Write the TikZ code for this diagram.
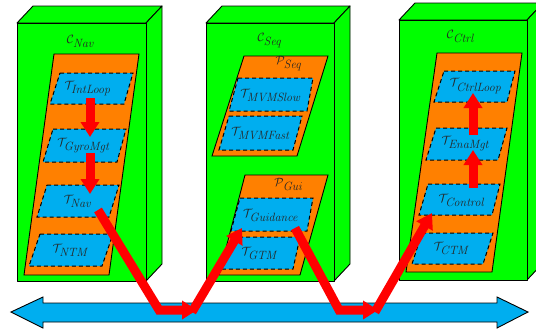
\documentclass[tikz,border=0pt]{standalone}
\usepackage{amsmath}
\usetikzlibrary{arrows.meta}
\definecolor{boxgreen}{RGB}{0,255,0}
\definecolor{procorange}{RGB}{255,128,0}
\definecolor{taskblue}{RGB}{0,174,239}
\definecolor{flowred}{RGB}{255,0,0}
\newcommand{\tlbl}[2]{$\mathcal{#1}_{\textstyle\mathit{#2}}$}
\tikzset{
  boxface/.style={fill=boxgreen, draw=black, line width=0.9pt, line join=round},
  procbox/.style={fill=procorange, draw=black, line width=0.9pt},
  taskbox/.style={fill=taskblue, draw=black, line width=1pt, dash pattern=on 4pt off 3pt},
  lbl/.style={inner sep=0pt, font=\large, text=black!85},
  flow/.style={draw=flowred, line width=9pt, line join=miter,
     -{Triangle[length=15pt,width=18pt]}},
  busarrow/.style={fill=taskblue, draw=black, line width=0.9pt, line join=miter}
}
\newcommand{\cube}[4]{% L R T B
  \draw[boxface] (#1,#3) -- ++(16,-17) -- (#2+16,#3-17) -- (#2,#3) -- cycle;
  \draw[boxface] (#2,#3) -- (#2+16,#3-17) -- (#2+16,#4-17) -- (#2,#4) -- cycle;
  \draw[boxface] (#1,#3) rectangle (#2,#4);
}
\begin{document}
\begin{tikzpicture}[x=1pt,y=-1pt]
\useasboundingbox (0,0) rectangle (536,333);
\clip (0,0) rectangle (536,333);

% containers
\cube{17}{146}{23}{281}
\cube{206}{334}{23}{281}
\cube{399}{527}{20}{280}
\node[lbl] (cnav) at (81,41) {\tlbl{C}{Nav}};
\node[lbl] (cseq) at (270,41) {\tlbl{C}{Seq}};
\node[lbl] (cctrl) at (461,36) {\tlbl{C}{Ctrl}};

% processes
\draw[procbox] (54,54) -- (139,54) -- (109,275) -- (24,275) -- cycle;
\draw[procbox] (244,56) -- (328,56) -- (297,156) -- (212,156) -- cycle;
\draw[procbox] (245,175) -- (328,175) -- (300,275) -- (219,275) -- cycle;
\draw[procbox] (437,53) -- (522,53) -- (492,272) -- (406,272) -- cycle;
\node[lbl] (pseq) at (289,64) {\tlbl{P}{Seq}};
\node[lbl] (pgui) at (289,184) {\tlbl{P}{Gui}};

% tasks in C_Nav
\draw[taskbox] (60,73) -- (133,73) -- (124,104) -- (50,104) -- cycle;
\draw[taskbox] (53,129) -- (126,129) -- (117,162) -- (43,162) -- cycle;
\draw[taskbox] (47,185) -- (119,185) -- (109,217) -- (37,217) -- cycle;
\draw[taskbox] (40,234) -- (113,234) -- (102,266) -- (29,266) -- cycle;
\node[lbl] (tintloop) at (88,89) {\tlbl{T}{IntLoop}};
\node[lbl] (tgyro) at (84,146) {\tlbl{T}{GyroMgt}};
\node[lbl] (tnav) at (78,201) {\tlbl{T}{Nav}};
\node[lbl] (tntm) at (71,250) {\tlbl{T}{NTM}};

% tasks in C_Seq
\draw[taskbox] (238,78) -- (313,78) -- (307,111) -- (229,111) -- cycle;
\draw[taskbox] (229,116) -- (302,116) -- (293,150) -- (219,150) -- cycle;
\draw[taskbox] (240,198) -- (313,198) -- (307,231) -- (231,231) -- cycle;
\draw[taskbox] (232,237) -- (300,237) -- (293,269) -- (222,269) -- cycle;
\node[lbl] (tslow) at (271,95) {\tlbl{T}{MVMSlow}};
\node[lbl] (tfast) at (261,133) {\tlbl{T}{MVMFast}};
\node[lbl] (tguid) at (271,215) {\tlbl{T}{Guidance}};
\node[lbl] (tgtm) at (260,253) {\tlbl{T}{GTM}};

% tasks in C_Ctrl
\draw[taskbox] (444,71) -- (515,71) -- (507,102) -- (434,102) -- cycle;
\draw[taskbox] (436,128) -- (507,128) -- (498,160) -- (426,160) -- cycle;
\draw[taskbox] (428,184) -- (500,184) -- (492,215) -- (419,215) -- cycle;
\draw[taskbox] (422,233) -- (493,233) -- (483,264) -- (412,264) -- cycle;
\node[lbl] (tctrlloop) at (476,86) {\tlbl{T}{CtrlLoop}};
\node[lbl] (tena) at (466,144) {\tlbl{T}{EnaMgt}};
\node[lbl] (tcontrol) at (462,200) {\tlbl{T}{Control}};
\node[lbl] (tctm) at (452,248) {\tlbl{T}{CTM}};

% bus
\draw[busarrow] (11,312) -- (43,297) -- (43,303) -- (497,303) -- (497,297)
  -- (528,312) -- (497,328) -- (497,322) -- (43,322) -- (43,328) -- cycle;
\coordinate (busL) at (11,312);
\coordinate (busR) at (528,312);

% flow endpoints
\coordinate (a1s) at (90,98);   \coordinate (a1e) at (90,137);
\coordinate (a2s) at (90,153);  \coordinate (a2e) at (90,194);
\coordinate (a3s) at (98,210);  \coordinate (a3m) at (159,310); \coordinate (a3e) at (197,310);
\coordinate (a4s) at (192,312); \coordinate (a4e) at (242,228);
\coordinate (a5s) at (295,228); \coordinate (a5m) at (339,310); \coordinate (a5e) at (378,310);
\coordinate (a6s) at (375,312); \coordinate (a6e) at (432,213);
\coordinate (a7s) at (473,188); \coordinate (a7e) at (473,150);
\coordinate (a8s) at (473,135); \coordinate (a8e) at (473,93);

\draw[flow] (a1s) -- (a1e);
\draw[flow] (a2s) -- (a2e);
\draw[flow] (a3s) -- (a3m) -- (a3e);
\draw[flow] (a4s) -- (a4e);
\draw[flow] (a5s) -- (a5m) -- (a5e);
\draw[flow] (a6s) -- (a6e);
\draw[flow] (a7s) -- (a7e);
\draw[flow] (a8s) -- (a8e);
\end{tikzpicture}
\end{document}
